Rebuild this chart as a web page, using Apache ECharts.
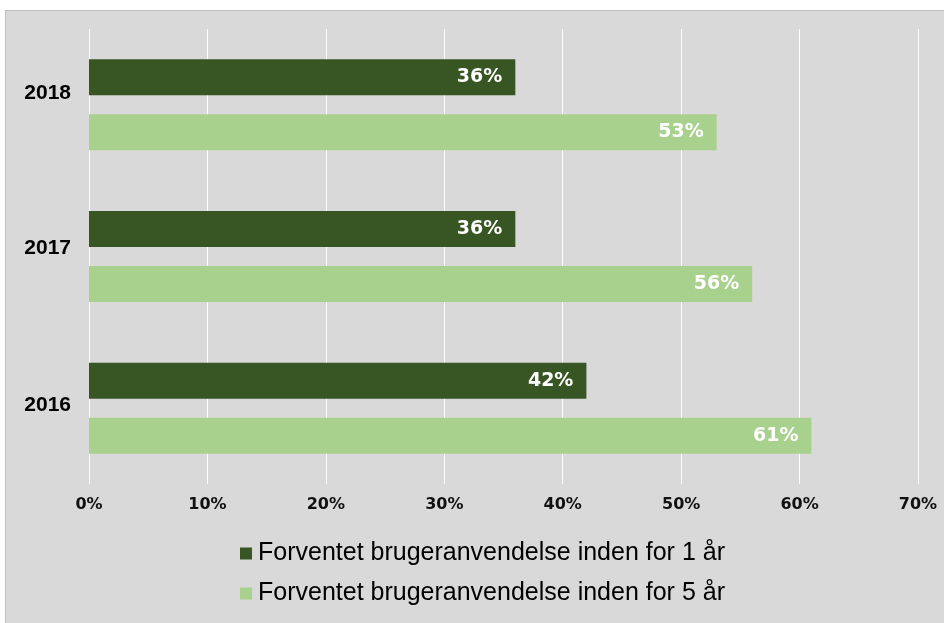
<!DOCTYPE html>
<html>
<head>
<meta charset="utf-8">
<script src="https://cdn.jsdelivr.net/npm/echarts@6/dist/echarts.min.js"></script>
<style>
  html, body { margin: 0; padding: 0; background: #ffffff; }
  #frame { position: absolute; left: 5px; top: 10px; width: 960px; height: 640px;
           background: #d9d9d9; border: 1px solid #bfbfbf; box-sizing: border-box; }
  #chart { position: absolute; left: 0; top: 0; width: 944px; height: 623px; }
</style>
</head>
<body>
<div id="frame"></div>
<div id="chart"></div>
<script>
const categories = ['2016', '2017', '2018'];
const seriesNames = ['Forventet brugeranvendelse inden for 1 år', 'Forventet brugeranvendelse inden for 5 år'];
const within1Year = [42, 36, 36];
const within5Years = [61, 56, 53];
const xTicks = { min: 0, max: 70, interval: 10 };

const darkGreen = '#375623';
const lightGreen = '#a9d18e';
const verdanaLike = '"DejaVu Sans"';
const arialLike = '"Liberation Sans"';

const yearShift = { '2016': 6, '2017': 17, '2018': 24 };
const rich = {};
categories.forEach(c => {
  rich['y' + c] = {
    fontFamily: arialLike,
    fontWeight: 'bold', fontSize: 21, color: '#000',
    padding: [0, 0, yearShift[c], 0]
  };
});

const barLabel = {
  show: true,
  position: 'insideRight',
  distance: 13,
  color: '#ffffff',
  fontFamily: verdanaLike,
  fontWeight: 'bold',
  fontSize: 19,
  formatter: p => p.value + '%'
};

const chart = echarts.init(document.getElementById('chart'), null, { renderer: 'canvas' });
chart.setOption({
  backgroundColor: 'transparent',
  animation: false,
  grid: { left: 89, right: 26, top: 29, bottom: 139, containLabel: false, outerBoundsMode: 'none' },
  legend: {
    orient: 'vertical',
    left: 240,
    top: 541,
    padding: 0,
    itemWidth: 12,
    itemHeight: 12,
    itemGap: 15,
    icon: 'rect',
    data: seriesNames,
    textStyle: { fontFamily: arialLike, fontSize: 25, color: '#000', padding: [0, 0, 0, 1] }
  },
  xAxis: {
    type: 'value',
    min: xTicks.min, max: xTicks.max, interval: xTicks.interval,
    axisLine: { show: false },
    axisTick: { show: false },
    splitLine: { show: true, lineStyle: { color: '#ffffff', width: 1 } },
    axisLabel: {
      formatter: '{value}%',
      margin: 13,
      fontFamily: verdanaLike,
      fontWeight: 'bold',
      fontSize: 16,
      color: '#111'
    }
  },
  yAxis: {
    type: 'category',
    data: categories,
    axisLine: { show: false },
    axisTick: { show: false },
    axisLabel: {
      margin: 18,
      formatter: v => '{y' + v + '|' + v + '}',
      rich: rich
    }
  },
  series: [
    {
      name: seriesNames[0],
      type: 'bar',
      data: within1Year,
      barWidth: 36,
      barGap: '53%',
      itemStyle: { color: darkGreen },
      label: barLabel
    },
    {
      name: seriesNames[1],
      type: 'bar',
      data: within5Years,
      barWidth: 36,
      barGap: '53%',
      itemStyle: { color: lightGreen },
      label: barLabel
    }
  ]
});
</script>
</body>
</html>
